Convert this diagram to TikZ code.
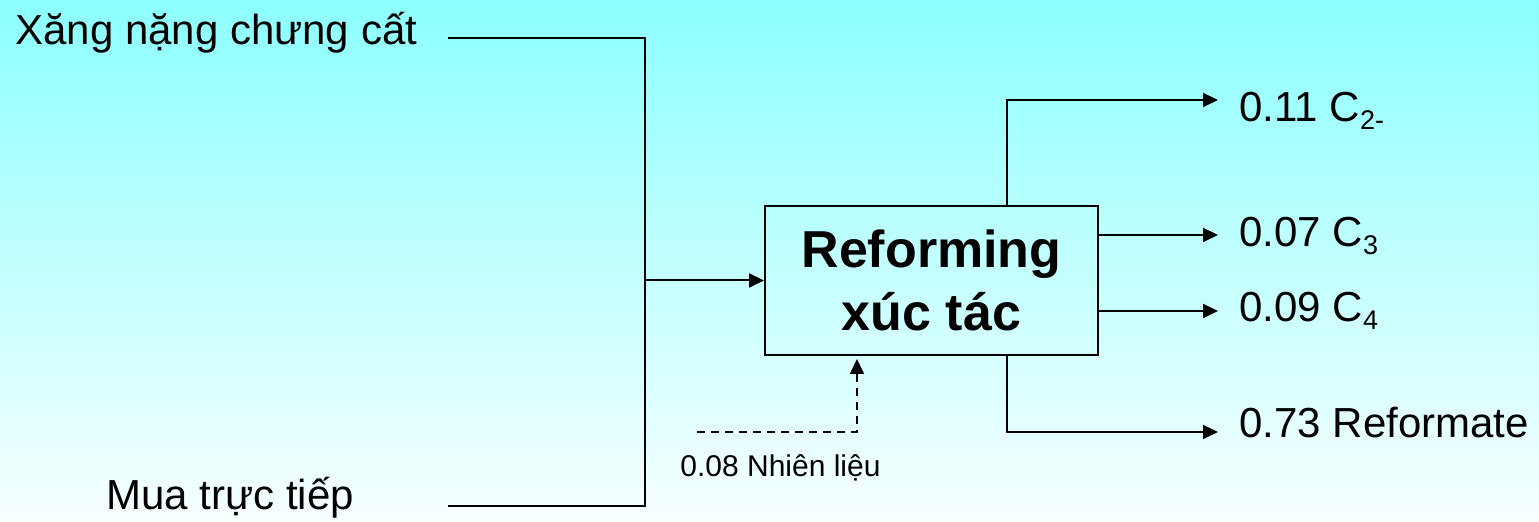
\documentclass[tikz,border=0pt]{standalone}
\usepackage{fontspec}
\setmainfont{Liberation Sans}
\usetikzlibrary{arrows.meta}
\definecolor{bgtop}{RGB}{140,255,255}
\definecolor{bgbot}{RGB}{248,255,255}
\newcommand\sbs[1]{\raisebox{-4pt}{\fontsize{13.5pt}{16pt}\selectfont #1}}
\tikzset{
  lbl/.style={anchor=base west, inner sep=0pt, font=\fontsize{21pt}{25pt}\selectfont},
  small/.style={anchor=base west, inner sep=0pt, font=\fontsize{15pt}{18pt}\selectfont},
  proc/.style={draw, line width=1pt, minimum width=166.5pt, minimum height=74.5pt, inner sep=0pt,
    align=center, font=\fontsize{26pt}{31.5pt}\selectfont\bfseries},
  conn/.style={line width=1pt},
  arr/.style={line width=1pt, -{Triangle[length=7.5pt,width=7pt]}},
}
\begin{document}
\begin{tikzpicture}[x=0.5pt,y=-0.5pt]
\useasboundingbox (0,0) rectangle (1539,522);
\shade[top color=bgtop, bottom color=bgbot] (0,0) rectangle (1539,522);

% labels
\node[lbl] (xang) at (15,45) {Xăng nặng chưng cất};
\node[lbl] (mua) at (106,510) {Mua trực tiếp};
\node[lbl] (o1) at (1239,122) {0.11 C\sbs{2-}};
\node[lbl] (o2) at (1239,247) {0.07 C\sbs{3}};
\node[lbl] (o3) at (1239,322) {0.09 C\sbs{4}};
\node[lbl] (o4) at (1239,438) {0.73 Reformate};
\node[small] (fuel) at (680,477) {0.08 Nhiên liệu};

% process box
\node[proc] (b) at (931.5,280.5) {Reforming\\xúc tác};

% coordinates
\coordinate (s1) at (448,38);
\coordinate (s2) at (448,506);
\coordinate (j) at (645,280.5);
\coordinate (c1) at (1007,100);
\coordinate (c4) at (1007,432);
\coordinate (e1) at (1218,100);
\coordinate (e2) at (1218,235);
\coordinate (e3) at (1218,311);
\coordinate (e4) at (1218,432);
\coordinate (d0) at (697,432);
\coordinate (d1) at (857,432);

% inputs
\draw[conn] (s1) -| (j);
\draw[conn] (s2) -| (j);
\draw[arr] (j) -- (b.west);

% outputs
\draw[arr] (b.north -| c1) -- (c1) -- (e1);
\draw[arr] (b.east |- e2) -- (e2);
\draw[arr] (b.east |- e3) -- (e3);
\draw[arr] (b.south -| c4) -- (c4) -- (e4);

% fuel
\draw[arr, line width=0.8pt, dash pattern=on 4pt off 3pt, shorten >=1.5pt] (d0) -- (d1) -- (b.south -| d1);
\end{tikzpicture}
\end{document}
